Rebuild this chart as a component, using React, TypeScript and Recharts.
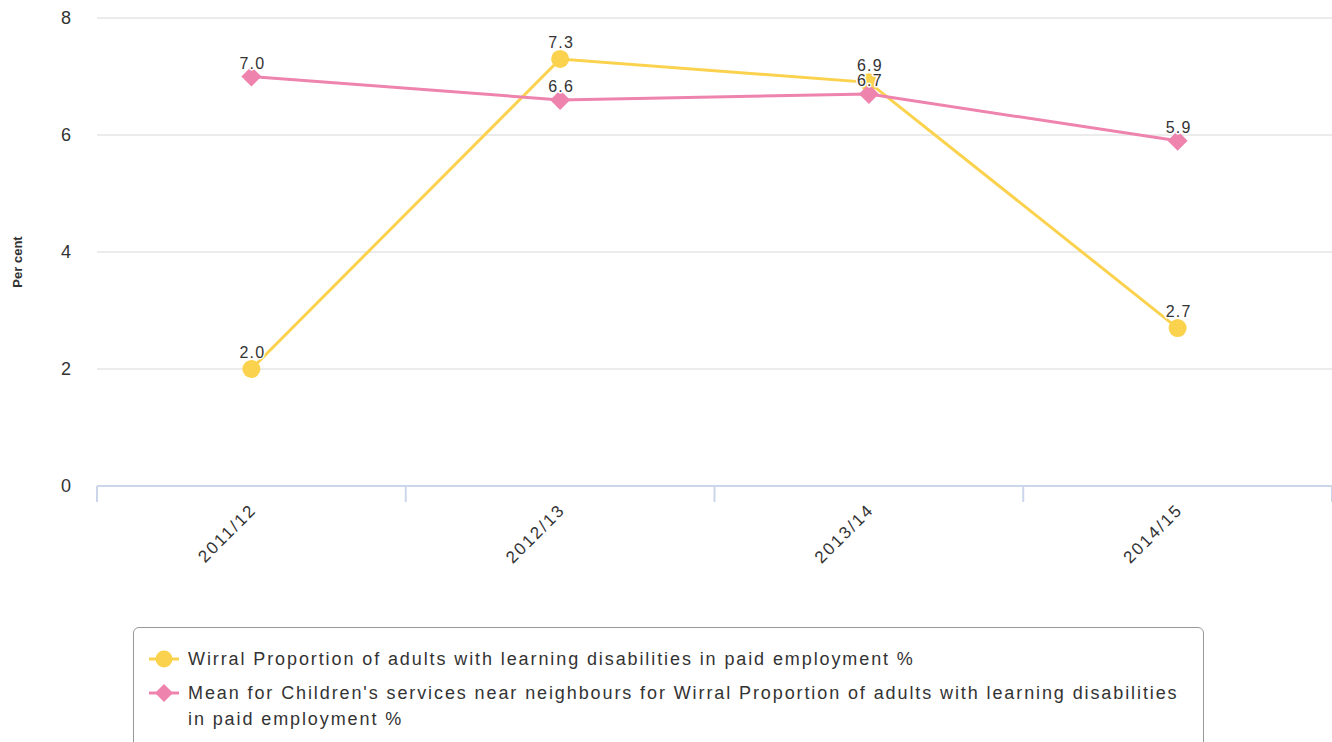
import React from "react";
import {
  LineChart,
  Line,
  XAxis,
  YAxis,
  CartesianGrid,
  LabelList,
} from "recharts";

const periods = ["2011/12", "2012/13", "2013/14", "2014/15"];
const wirral = [2.0, 7.3, 6.9, 2.7];
const neighbours = [7.0, 6.6, 6.7, 5.9];
const yTicks = [0, 2, 4, 6, 8];

const YELLOW = "#fbd24e";
const PINK = "#ee83ae";
const FONT = '"Liberation Sans", Arial, Helvetica, sans-serif';

const wirralName =
  "Wirral Proportion of adults with learning disabilities in paid employment %";
const meanName =
  "Mean for Children's services near neighbours for Wirral Proportion of adults with learning disabilities in paid employment %";

// category i sits in the middle of band [i, i+1] so tick marks fall on band edges
const data = periods.map((p, i) => ({
  pos: i + 0.5,
  period: p,
  wirral: wirral[i],
  mean: neighbours[i],
}));
const bandEdges = periods.map((_, i) => i).concat(periods.length);
const bandCentres = periods.map((_, i) => i + 0.5);

const pointLabel = (lift: number) => (props: any) => {
  const x = props.x ?? props.viewBox?.x;
  const y = props.y ?? props.viewBox?.y;
  if (x == null || y == null) return null;
  return (
    <text
      x={x + 1}
      y={y - lift}
      textAnchor="middle"
      fontSize={16}
      letterSpacing={1.2}
      fontFamily={FONT}
      fill="#333"
      stroke="#fff"
      strokeWidth={3}
      strokeLinejoin="round"
      style={{ paintOrder: "stroke" }}
    >
      {Number(props.value).toFixed(1)}
    </text>
  );
};

const CircleDot = (props: any) => (
  <circle key={`c-${props.index}`} cx={props.cx} cy={props.cy} r={9} fill={YELLOW} />
);

const DiamondDot = (props: any) => {
  const { cx, cy } = props;
  const r = 10;
  return (
    <path
      key={`d-${props.index}`}
      d={`M${cx},${cy - r}L${cx + r},${cy}L${cx},${cy + r}L${cx - r},${cy}Z`}
      fill={PINK}
    />
  );
};

const PeriodTick = (props: any) => {
  const { x, y, payload } = props;
  const label = periods[Math.floor(payload.value)];
  const tx = x + 6;
  const ty = y + 16;
  return (
    <text
      x={tx}
      y={ty}
      transform={`rotate(-45, ${tx}, ${ty})`}
      textAnchor="end"
      fontSize={17}
      letterSpacing={2}
      fontFamily={FONT}
      fill="#333"
    >
      {label}
    </text>
  );
};

const NoTick = () => <g />;

const LegendSymbol = ({ color, diamond }: { color: string; diamond?: boolean }) => (
  <svg width={32} height={20} style={{ flex: "none", marginTop: 3 }}>
    <line x1={1} y1={10} x2={31} y2={10} stroke={color} strokeWidth={3} />
    {diamond ? (
      <path d="M16,1L25,10L16,19L7,10Z" fill={color} />
    ) : (
      <circle cx={16} cy={10} r={8.5} fill={color} />
    )}
  </svg>
);

export default function App() {
  return (
    <div
      style={{
        position: "absolute",
        left: 0,
        top: 0,
        width: 1332,
        height: 742,
        overflow: "hidden",
        background: "#fff",
        fontFamily: FONT,
      }}
    >
      <LineChart
        width={1332}
        height={742}
        data={data}
        margin={{ top: 18, right: 0, bottom: 136, left: 0 }}
      >
        <CartesianGrid
          xAxisId="labels"
          vertical={false}
          stroke="#d8d8d8"
          strokeWidth={1}
        />
        <XAxis
          xAxisId="edges"
          type="number"
          dataKey="pos"
          domain={[0, periods.length]}
          ticks={bandEdges}
          tick={<NoTick />}
          tickSize={16}
          height={1}
          axisLine={{ stroke: "#ccd6eb", strokeWidth: 2 }}
          tickLine={{ stroke: "#ccd6eb", strokeWidth: 2 }}
        />
        <XAxis
          xAxisId="labels"
          type="number"
          dataKey="pos"
          domain={[0, periods.length]}
          ticks={bandCentres}
          interval={0}
          tick={<PeriodTick />}
          tickLine={false}
          axisLine={false}
          height={119}
        />
        <YAxis
          domain={[0, 8]}
          ticks={yTicks}
          width={97}
          axisLine={false}
          tickLine={false}
          tickSize={0}
          tickMargin={26}
          tick={{ fontSize: 18, fill: "#333", fontFamily: FONT }}
          label={({ viewBox }: any) => (
            <text
              x={17}
              y={viewBox.y + viewBox.height / 2 + 10}
              transform={`rotate(-90, 17, ${viewBox.y + viewBox.height / 2 + 10})`}
              textAnchor="middle"
              dominantBaseline="central"
              fontSize={13}
              fontWeight="bold"
              fontFamily={FONT}
              fill="#333"
            >
              Per cent
            </text>
          )}
        />
        <Line
          xAxisId="labels"
          dataKey="wirral"
          name={wirralName}
          stroke={YELLOW}
          strokeWidth={3}
          dot={CircleDot}
          activeDot={false}
          isAnimationActive={false}
        >
          <LabelList dataKey="wirral" content={pointLabel(11)} />
        </Line>
        <Line
          xAxisId="labels"
          dataKey="mean"
          name={meanName}
          stroke={PINK}
          strokeWidth={3}
          dot={DiamondDot}
          activeDot={false}
          isAnimationActive={false}
        >
          <LabelList dataKey="mean" content={pointLabel(8)} />
        </Line>
      </LineChart>
      <div
        style={{
          position: "absolute",
          left: 133,
          top: 627,
          width: 1071,
          height: 140,
          border: "1px solid #999",
          borderRadius: 6,
          boxSizing: "border-box",
          padding: "18px 14px 0 14px",
          color: "#333",
          fontSize: 18,
          letterSpacing: 1.9,
          lineHeight: "26px",
        }}
      >
        <div style={{ display: "flex", alignItems: "flex-start", marginBottom: 8 }}>
          <LegendSymbol color={YELLOW} />
          <span style={{ marginLeft: 8 }}>{wirralName}</span>
        </div>
        <div style={{ display: "flex", alignItems: "flex-start" }}>
          <LegendSymbol color={PINK} diamond />
          <span style={{ marginLeft: 8, maxWidth: 1000 }}>{meanName}</span>
        </div>
      </div>
    </div>
  );
}
